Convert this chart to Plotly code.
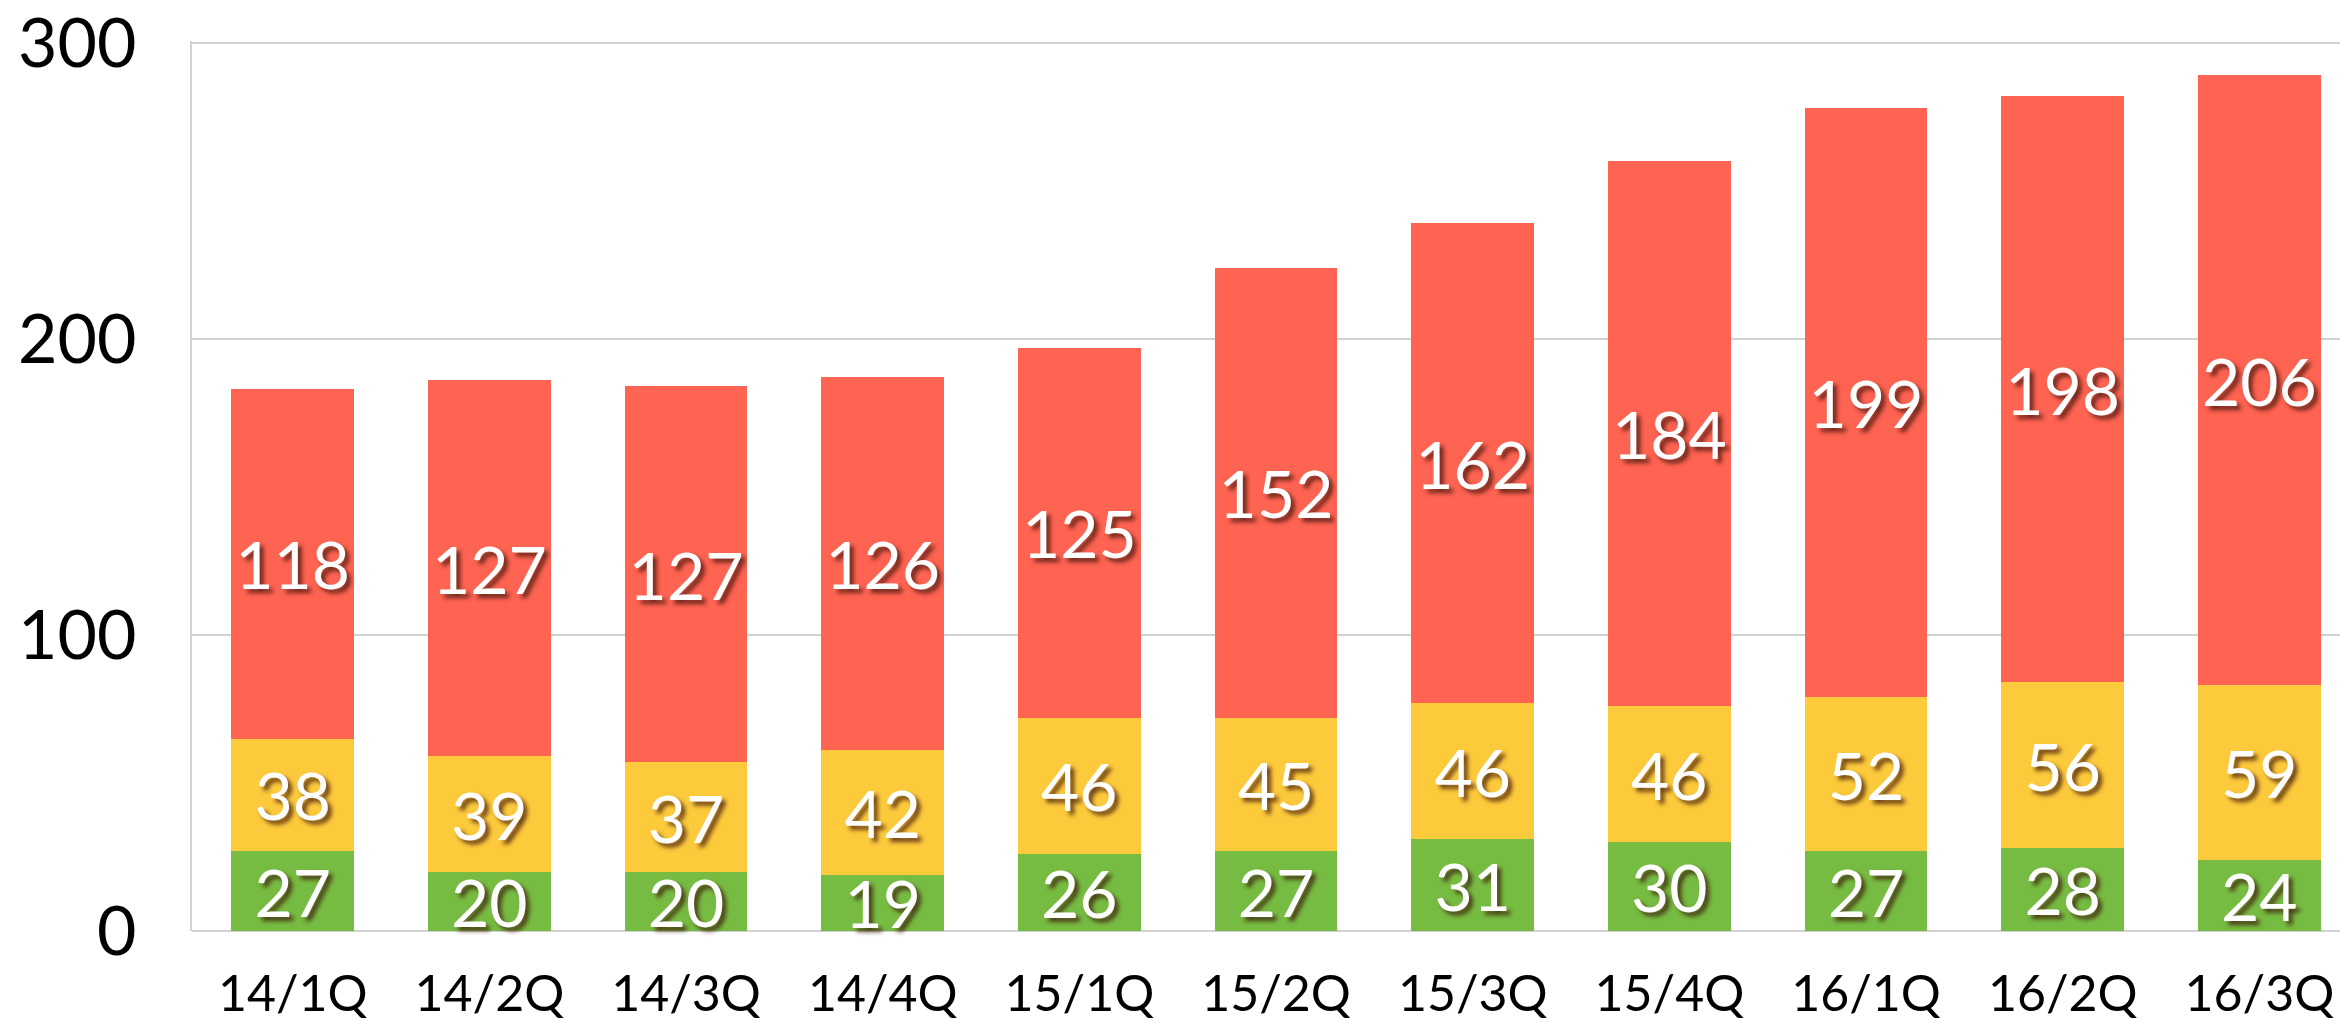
import plotly.graph_objects as go

categories = ["14/1Q", "14/2Q", "14/3Q", "14/4Q", "15/1Q", "15/2Q",
              "15/3Q", "15/4Q", "16/1Q", "16/2Q", "16/3Q"]
green_vals = [27, 20, 20, 19, 26, 27, 31, 30, 27, 28, 24]
yellow_vals = [38, 39, 37, 42, 46, 45, 46, 46, 52, 56, 59]
red_vals = [118, 127, 127, 126, 125, 152, 162, 184, 199, 198, 206]
y_ticks = [0, 100, 200, 300]

FONT = "Lato"
shadow = "4px 4px 4px rgba(60,20,10,0.75)"

fig = go.Figure()
for name, vals, color in [("green", green_vals, "#77BC42"),
                          ("yellow", yellow_vals, "#FDCA3C"),
                          ("red", red_vals, "#FF6352")]:
    fig.add_trace(go.Bar(
        x=categories, y=vals, name=name,
        marker=dict(color=color, line=dict(width=0)),
        text=[str(v) for v in vals],
        textposition="inside",
        insidetextanchor="middle",
        constraintext="none",
        textangle=0,
        textfont=dict(family=FONT, size=66, color="white", shadow=shadow),
        cliponaxis=False,
    ))

fig.update_layout(
    barmode="stack",
    bargap=0.375,
    width=2340, height=1019,
    margin=dict(l=192, r=0, t=41, b=88, pad=0, autoexpand=False),
    paper_bgcolor="white", plot_bgcolor="white",
    showlegend=False,
    font=dict(family=FONT, color="black"),
    xaxis=dict(
        type="category",
        range=[-0.512, 10.41],
        automargin=False,
        showgrid=False,
        showline=False,
        ticks="",
        tickfont=dict(size=50, family=FONT, color="black"),
        ticklabelstandoff=29,
        ticklabeloverflow="allow",
    ),
    yaxis=dict(
        range=[0, 300.6],
        automargin=False,
        tickvals=y_ticks,
        showgrid=True, gridcolor="#D2D2D2", gridwidth=2,
        zeroline=True, zerolinecolor="#D2D2D2", zerolinewidth=2,
        showline=True, linecolor="#D2D2D2", linewidth=2,
        ticks="",
        tickfont=dict(size=68, family=FONT, color="black"),
        ticklabelstandoff=40,
        ticklabeloverflow="allow",
    ),
)

fig.write_html(
    "out.html",
    config={"displayModeBar": False},
    post_script="document.body.style.margin='0';document.body.style.overflow='hidden';",
)
